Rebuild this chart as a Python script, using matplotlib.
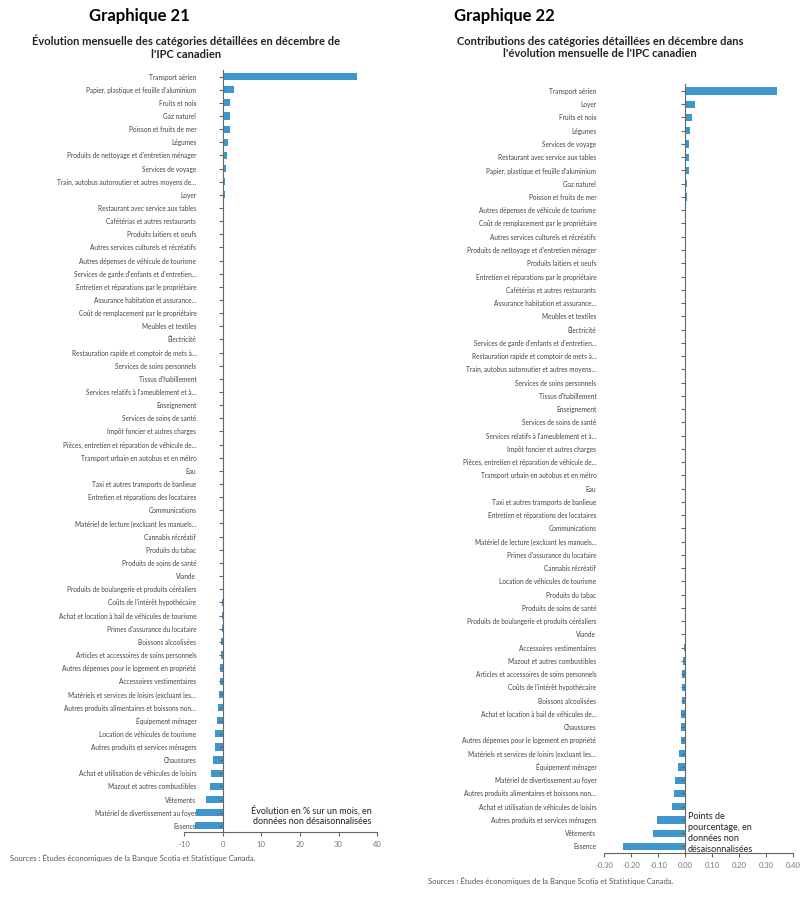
import matplotlib.pyplot as plt
import numpy as np

plt.rcParams['font.family'] = ['Lato', 'DejaVu Sans']

cats21 = ["Transport aérien", "Papier, plastique et feuille d'aluminium", "Fruits et noix", "Gaz naturel",
          "Poisson et fruits de mer", "Légumes", "Produits de nettoyage et d'entretien ménager",
          "Services de voyage", "Train, autobus autoroutier et autres moyens de…", "Loyer",
          "Restaurant avec service aux tables", "Cafétérias et autres restaurants", "Produits laitiers et oeufs",
          "Autres services culturels et récréatifs", "Autres dépenses de véhicule de tourisme",
          "Services de garde d'enfants et d'entretien…", "Entretien et réparations par le propriétaire",
          "Assurance habitation et assurance…", "Coût de remplacement par le propriétaire", "Meubles et textiles",
          "Électricité", "Restauration rapide et comptoir de mets à…", "Services de soins personnels",
          "Tissus d'habillement", "Services relatifs à l'ameublement et à…", "Enseignement",
          "Services de soins de santé", "Impôt foncier et autres charges",
          "Pièces, entretien et réparation de véhicule de…", "Transport urbain en autobus et en métro", "Eau",
          "Taxi et autres transports de banlieue", "Entretien et réparations des locataires", "Communications",
          "Matériel de lecture (excluant les manuels…", "Cannabis récréatif", "Produits du tabac",
          "Produits de soins de santé", "Viande", "Produits de boulangerie et produits céréaliers",
          "Coûts de l'intérêt hypothécaire", "Achat et location à bail de véhicules de tourisme",
          "Primes d'assurance du locataire", "Boissons alcoolisées", "Articles et accessoires de soins personnels",
          "Autres dépenses pour le logement en propriété", "Accessoires vestimentaires",
          "Matériels et services de loisirs (excluant les…", "Autres produits alimentaires et boissons non…",
          "Équipement ménager", "Location de véhicules de tourisme", "Autres produits et services ménagers",
          "Chaussures", "Achat et utilisation de véhicules de loisirs", "Mazout et autres combustibles",
          "Vêtements", "Matériel de divertissement au foyer", "Essence"]
vals21 = [34.7, 3.0, 2.0, 1.8, 1.8, 1.4, 1.1, 0.9, 0.6, 0.5, 0.4, 0.25, 0.2, 0.2, 0.15, 0.15, 0.12, 0.1,
          0.1, 0.08, 0.07, 0.06, 0.05, 0.04, 0.03, 0.03, 0.02, 0.02, 0.01, 0.01, 0.0, 0.0, 0.0, -0.01,
          -0.01, -0.02, -0.02, -0.03, -0.03, -0.05, -0.08, -0.12, -0.2, -0.4, -0.55, -0.6, -0.8, -1.0,
          -1.3, -1.4, -2.0, -2.1, -2.4, -3.0, -3.4, -4.2, -6.9, -7.1]

cats22 = ["Transport aérien", "Loyer", "Fruits et noix", "Légumes", "Services de voyage",
          "Restaurant avec service aux tables", "Papier, plastique et feuille d'aluminium", "Gaz naturel",
          "Poisson et fruits de mer", "Autres dépenses de véhicule de tourisme",
          "Coût de remplacement par le propriétaire", "Autres services culturels et récréatifs",
          "Produits de nettoyage et d'entretien ménager", "Produits laitiers et oeufs",
          "Entretien et réparations par le propriétaire", "Cafétérias et autres restaurants",
          "Assurance habitation et assurance…", "Meubles et textiles", "Électricité",
          "Services de garde d'enfants et d'entretien…", "Restauration rapide et comptoir de mets à…",
          "Train, autobus autoroutier et autres moyens…", "Services de soins personnels",
          "Tissus d'habillement", "Enseignement", "Services de soins de santé",
          "Services relatifs à l'ameublement et à…", "Impôt foncier et autres charges",
          "Pièces, entretien et réparation de véhicule de…", "Transport urbain en autobus et en métro", "Eau",
          "Taxi et autres transports de banlieue", "Entretien et réparations des locataires", "Communications",
          "Matériel de lecture (excluant les manuels…", "Primes d'assurance du locataire", "Cannabis récréatif",
          "Location de véhicules de tourisme", "Produits du tabac", "Produits de soins de santé",
          "Produits de boulangerie et produits céréaliers", "Viande", "Accessoires vestimentaires",
          "Mazout et autres combustibles", "Articles et accessoires de soins personnels",
          "Coûts de l'intérêt hypothécaire", "Boissons alcoolisées", "Achat et location à bail de véhicules de…",
          "Chaussures", "Autres dépenses pour le logement en propriété",
          "Matériels et services de loisirs (excluant les…", "Équipement ménager",
          "Matériel de divertissement au foyer", "Autres produits alimentaires et boissons non…",
          "Achat et utilisation de véhicules de loisirs", "Autres produits et services ménagers", "Vêtements",
          "Essence"]
vals22 = [0.34, 0.035, 0.026, 0.018, 0.015, 0.013, 0.013, 0.007, 0.005, 0.004, 0.004, 0.003, 0.003, 0.003,
          0.002, 0.002, 0.002, 0.001, 0.001, 0.001, 0.001, 0.001, 0.001, 0.0005, 0.0005, 0.0005, 0.0003,
          0.0003, 0.0002, 0.0001, 0.0, 0.0, 0.0, -0.0002, -0.0002, -0.0003, -0.0003, -0.0005, -0.0005,
          -0.0006, -0.001, -0.0015, -0.005, -0.007, -0.011, -0.012, -0.013, -0.015, -0.015, -0.017, -0.022,
          -0.027, -0.037, -0.04, -0.047, -0.105, -0.12, -0.23]

blue = '#3d96cc'

fig = plt.figure(figsize=(8.11, 8.97), dpi=100)


def draw(ax, cats, vals, xlim, ticks, ticklabels, pad):
    y = np.arange(len(cats))
    ax.barh(y, vals, height=0.55, color=blue)
    ax.set_ylim(len(cats) - 0.5, -0.5)
    ax.set_xlim(*xlim)
    ax.set_yticks(y)
    ax.set_yticklabels(cats)
    ax.set_xticks(ticks)
    ax.set_xticklabels(ticklabels)
    ax.spines[['top', 'right']].set_visible(False)
    ax.spines['left'].set_position(('data', 0))
    for s in ['left', 'bottom']:
        ax.spines[s].set_color('#666666')
        ax.spines[s].set_linewidth(0.8)
    ax.tick_params(axis='y', length=3, pad=pad, color='#666666', labelsize=4.7, labelcolor='#444444')
    ax.tick_params(axis='x', length=3, color='#666666', labelsize=5.5, labelcolor='#777777')


ax1 = fig.add_axes([0.227, 0.072, 0.238, 0.85])
draw(ax1, cats21, vals21, (-10, 40), [-10, 0, 10, 20, 30, 40], ['-10', '0', '10', '20', '30', '40'], 16)
ax1.text(38.5, 56.2, "Évolution en % sur un mois, en\ndonnées non désaisonnalisées",
         fontsize=6.5, ha='right', va='center', color='#222222')

ax2 = fig.add_axes([0.745, 0.049, 0.233, 0.857])
t22 = [-0.3, -0.2, -0.1, 0, 0.1, 0.2, 0.3, 0.4]
draw(ax2, cats22, vals22, (-0.3, 0.4), t22, [f'{t:.2f}' for t in t22], 61)
ax2.text(0.01, 56.0, "Points de\npourcentage, en\ndonnées non\ndésaisonnalisées",
         fontsize=6.5, ha='left', va='center', color='#222222', linespacing=1.3)

fig.text(0.11, 0.982, "Graphique 21", fontsize=12, fontweight='bold', va='center')
fig.text(0.23, 0.947, "Évolution mensuelle des catégories détaillées en décembre de\nl'IPC canadien",
         fontsize=8, fontweight='bold', ha='center', va='center', color='#222222')
fig.text(0.56, 0.982, "Graphique 22", fontsize=12, fontweight='bold', va='center')
fig.text(0.74, 0.947, "Contributions des catégories détaillées en décembre dans\nl'évolution mensuelle de l'IPC canadien",
         fontsize=8, fontweight='bold', ha='center', va='center', color='#222222')
fig.text(0.012, 0.044, "Sources : Études économiques de la Banque Scotia et Statistique Canada.",
         fontsize=5.5, color='#555555', va='center')
fig.text(0.528, 0.018, "Sources : Études économiques de la Banque Scotia et Statistique Canada.",
         fontsize=5.5, color='#555555', va='center')

fig.savefig('out.png', dpi=100, facecolor='white')
